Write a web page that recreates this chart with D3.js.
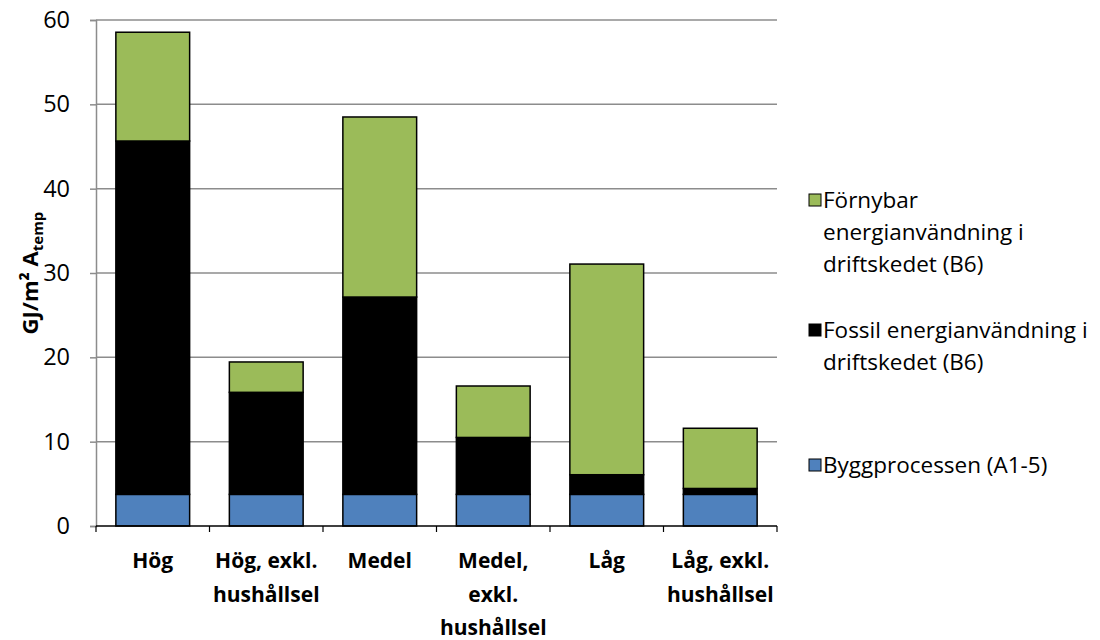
<!DOCTYPE html>
<html><head><meta charset="utf-8">
<script src="https://cdn.jsdelivr.net/npm/d3@7"></script>
<style>body{margin:0;background:#fff}svg{display:block}text{font-family:"Open Sans",sans-serif;fill:#000}</style>
</head><body><svg id="c" width="1100" height="640"></svg>
<script>
const categories = [["Hög"],["Hög, exkl.","hushållsel"],["Medel"],["Medel,","exkl.","hushållsel"],["Låg"],["Låg, exkl.","hushållsel"]];
const bygg = [3.75,3.75,3.75,3.75,3.75,3.75];
const fossil = [41.9,12.1,23.4,6.75,2.33,0.7];
const fornybar = [12.9,3.6,21.35,6.1,24.98,7.14];
const seriesNames = ["Byggprocessen (A1-5)","Fossil energianvändning i driftskedet (B6)","Förnybar energianvändning i driftskedet (B6)"];
const legendLines = [["Förnybar","energianvändning i","driftskedet (B6)"],["Fossil energianvändning i","driftskedet (B6)"],["Byggprocessen (A1-5)"]];
const colors = ["#4F81BD","#000000","#9BBB59"];
const yTicks = [0,10,20,30,40,50,60];

const svg = d3.select("#c");
const L=96,R=777,T=20,B=526;
const x = d3.scaleBand().domain(d3.range(6)).range([L,R]).paddingInner(0.35).paddingOuter(0.175);
const y = d3.scaleLinear().domain([0,60]).range([B,T]);

svg.append("g").selectAll("line").data(yTicks.slice(1)).join("line")
  .attr("x1",L).attr("x2",R).attr("y1",d=>y(d)).attr("y2",d=>y(d))
  .attr("stroke","#8c8c8c").attr("stroke-width",1.5);

const ya = svg.append("g").attr("transform",`translate(${L},0)`)
  .call(d3.axisLeft(y).tickValues(yTicks).tickSize(6).tickPadding(20));
ya.select(".domain").attr("stroke","#8c8c8c").attr("stroke-width",1.5);
ya.selectAll(".tick line").attr("stroke","#8c8c8c").attr("stroke-width",1.5);
ya.selectAll(".tick text").attr("font-size",23.5).attr("font-family","'Open Sans',sans-serif");

const data = categories.map((c,i)=>({i,vals:[bygg[i],fossil[i],fornybar[i]]}));
const stack = d3.stack().keys([0,1,2]).value((d,k)=>d.vals[k]);
const stacked = stack(data);
stacked.forEach((s,k)=>{
  svg.append("g").selectAll("rect").data(s).join("rect")
    .attr("x",d=>x(d.data.i)).attr("width",x.bandwidth())
    .attr("y",d=>y(d[1])).attr("height",d=>y(d[0])-y(d[1]))
    .attr("fill",colors[k]).attr("stroke","#000").attr("stroke-width",1.5);
});

svg.append("line").attr("x1",L).attr("x2",R).attr("y1",B).attr("y2",B).attr("stroke","#000").attr("stroke-width",1.5);
svg.append("g").selectAll("line").data(d3.range(7)).join("line")
  .attr("x1",d=>L+d*(R-L)/6).attr("x2",d=>L+d*(R-L)/6).attr("y1",B).attr("y2",B+6)
  .attr("stroke","#000").attr("stroke-width",1.2);
svg.append("g").selectAll("text").data(categories).join("text")
  .attr("text-anchor","middle").attr("font-size",21).attr("font-weight","bold")
  .attr("x",(d,i)=>x(i)+x.bandwidth()/2)
  .each(function(d){
    d3.select(this).selectAll("tspan").data(d).join("tspan")
      .attr("x",d3.select(this).attr("x")).attr("y",(t,j)=>568+j*33.5).text(t=>t);
  });

const yt = svg.append("text").attr("transform","translate(38,273) rotate(-90)")
  .attr("text-anchor","middle").attr("font-size",22).attr("font-weight","bold");
yt.append("tspan").text("GJ/m² A");
yt.append("tspan").attr("font-size",15).attr("dy",5).text("temp");

const legY = [[200,232,264],[330,362],[465]];
const legColorIdx = [2,1,0];
legendLines.forEach((lines,k)=>{
  const c = colors[legColorIdx[k]];
  svg.append("rect").attr("x",809).attr("y",legY[k][0]-6).attr("width",12).attr("height",12)
    .attr("fill",c).attr("stroke","#000").attr("stroke-width",1);
  const t = svg.append("text").attr("font-size",22.5);
  lines.forEach((ln,j)=>t.append("tspan").attr("x",823).attr("y",legY[k][j]+8).text(ln));
});
</script></body></html>
